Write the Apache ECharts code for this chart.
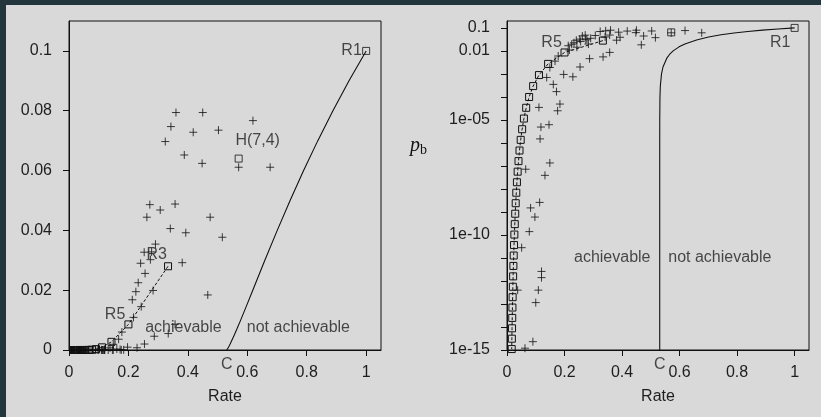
<!DOCTYPE html>
<html><head><meta charset="utf-8">
<script src="https://cdn.jsdelivr.net/npm/echarts@6.0.0/dist/echarts.min.js"></script>
<style>
html,body{margin:0;padding:0;background:#24363d;width:821px;height:417px;overflow:hidden}
#bg{position:absolute;left:6px;top:5px;width:815px;height:412px;background:#d9d9d9}
#chart{position:absolute;left:0;top:0;width:821px;height:417px}
</style></head><body><div id="bg"></div><div id="chart"></div>
<script>
// Repetition codes R1, R3, ..., R61 (rate = 1/N)
const repRate = [1, 0.3333, 0.2, 0.1429, 0.1111, 0.0909, 0.0769, 0.0667, 0.0588, 0.0526, 0.0476, 0.0435, 0.04, 0.037, 0.0345, 0.0323, 0.0303, 0.0286, 0.027, 0.0256, 0.0244, 0.0233, 0.0222, 0.0213, 0.0204, 0.0196, 0.0189, 0.0182, 0.0175, 0.0169, 0.0164];
const repPb = [0.1, 0.028, 0.00856, 0.00273, 8.91e-4, 2.96e-4, 9.93e-5, 3.37e-5, 1.15e-5, 3.94e-6, 1.36e-6, 4.69e-7, 1.62e-7, 5.64e-8, 1.96e-8, 6.85e-9, 2.4e-9, 8.39e-10, 2.95e-10, 1.04e-10, 3.64e-11, 1.28e-11, 4.51e-12, 1.59e-12, 5.61e-13, 1.98e-13, 7.01e-14, 2.48e-14, 8.77e-15, 3.1e-15, 1.1e-15];
// Hamming code H(7,4)
const hamRate = [0.571];
const hamPb = [0.064];
// BCH codes (+ markers)
const bchRate = [0.360, 0.450, 0.619, 0.343, 0.418, 0.503, 0.324, 0.388, 0.448, 0.571, 0.677, 0.272, 0.357, 0.262, 0.307, 0.475, 0.341, 0.393, 0.516, 0.291, 0.253, 0.278, 0.274, 0.241, 0.381, 0.256, 0.233, 0.225, 0.283, 0.213, 0.243, 0.467, 0.217, 0.357, 0.287, 0.334, 0.254, 0.229, 0.197, 0.178, 0.167, 0.149, 0.138, 0.161, 0.172, 0.111, 0.184, 0.176, 0.118, 0.146, 0.115, 0.149, 0.065, 0.132, 0.1135, 0.082, 0.097, 0.0775, 0.051, 0.120, 0.120, 0.037, 0.109, 0.100, 0.090, 0.0625];
const bchPb = [0.0794, 0.0794, 0.0767, 0.0747, 0.0728, 0.0735, 0.0697, 0.0652, 0.0624, 0.0611, 0.0611, 0.0486, 0.0488, 0.0444, 0.0468, 0.0444, 0.0406, 0.0392, 0.0377, 0.0354, 0.0327, 0.0328, 0.0302, 0.0290, 0.0292, 0.0256, 0.0225, 0.0195, 0.0199, 0.0168, 0.0145, 0.0184, 0.0109, 0.0086, 0.0046, 0.0055, 0.0020, 0.00075, 0.00095, 0.0060, 0.0036, 0.0019, 0.0007, 0.00035, 0.00017, 3.5e-5, 4.9e-5, 2.5e-5, 4.9e-6, 6.2e-6, 1.5e-6, 1.35e-7, 7.2e-8, 3.9e-8, 2.6e-9, 1.5e-9, 6e-10, 1.4e-10, 2.8e-11, 2.6e-12, 1.4e-12, 4e-13, 4e-13, 1.15e-13, 2.3e-15, 1.2e-15];
// Shannon limit curve (achievable boundary)
const shannonPb = [0, 1e-15, 1e-10, 1e-6, 1e-5, 1e-4, 3e-4, 1e-3, 2e-3, 5e-3, 7e-3, 0.01, 0.015, 0.02, 0.03, 0.04, 0.05, 0.06, 0.07, 0.08, 0.09, 0.1];
const shannonRate = [0.531, 0.531, 0.531, 0.5310, 0.5311, 0.5318, 0.5331, 0.5372, 0.5423, 0.5563, 0.5650, 0.5777, 0.5983, 0.6185, 0.6591, 0.7008, 0.7441, 0.7895, 0.8374, 0.8882, 0.9423, 1.0];
const capacity = 0.531;
// Tick labels
const xTicks = [0, 0.2, 0.4, 0.6, 0.8, 1];
const xTickLabels = ['0', '0.2', '0.4', '0.6', '0.8', '1'];
const leftYTicks = [0, 0.02, 0.04, 0.06, 0.08, 0.1];
const leftYTickLabels = ['0', '0.02', '0.04', '0.06', '0.08', '0.1'];
const rightYTicksPb = [1e-15, 1e-14, 1e-13, 1e-12, 1e-11, 1e-10, 1e-9, 1e-8, 1e-7, 1e-6, 1e-5, 1e-4, 1e-3, 1e-2, 1e-1];
const rightYLabelPb = [1e-15, 1e-10, 1e-5, 0.01, 0.1];
const rightYLabelText = ['1e-15', '1e-10', '1e-05', '0.01', '0.1'];
// Annotations
const leftNoteText = ['R1', 'R3', 'R5', 'H(7,4)', 'achievable', 'not achievable'];
const leftNoteRate = [0.951, 0.295, 0.155, 0.635, 0.385, 0.772];
const leftNotePb = [0.1, 0.0318, 0.0119, 0.0699, 0.0075, 0.0075];
const rightNoteText = ['R5', 'R1', 'achievable', 'not achievable'];
const rightNoteRate = [0.155, 0.95, 0.366, 0.74];
const rightNotePb = [0.0222, 0.0222, 1e-11, 1e-11];

const FONT = 'Liberation Sans, Arial, Helvetica, sans-serif';
const INK = '#111';
const TXT = '#1e1e1e';
const PLUS = 'path://M0,5L10,5M5,0L5,10';
const lg = p => Math.log10(p);
const lin = p => p;

function fmtFrom(vals, texts, ty) {
  return function (v) {
    for (let i = 0; i < vals.length; i++) {
      if (Math.abs(ty(vals[i]) - v) < 1e-9) return texts[i];
    }
    return '';
  };
}

function buildSeries(gi, ty, keep, noteText, noteRate, notePb, yBottom) {
  const ax = {xAxisIndex: gi, yAxisIndex: gi};
  const pts = (rs, ps) => rs.map((r, i) => [r, ps[i]]).filter(d => keep(d[1])).map(d => [d[0], ty(d[1])]);
  const hollow = {color: 'rgba(0,0,0,0)', borderColor: INK, borderWidth: 1};
  return [
    Object.assign({type: 'line', data: pts(shannonRate, shannonPb), symbol: 'none', silent: true,
      lineStyle: {color: INK, width: 1.1}, z: 2}, ax),
    Object.assign({type: 'line', data: pts(repRate.slice(1), repPb.slice(1)), symbol: 'rect', symbolSize: 7,
      showSymbol: true, showAllSymbol: true, itemStyle: hollow, silent: true,
      lineStyle: {color: INK, width: 1, type: [3, 2]}, z: 3}, ax),
    Object.assign({type: 'scatter', data: pts([repRate[0]].concat(hamRate), [repPb[0]].concat(hamPb)),
      symbol: 'rect', symbolSize: 7, itemStyle: hollow, silent: true, z: 3}, ax),
    Object.assign({type: 'scatter', data: pts(bchRate, bchPb), symbol: PLUS, symbolSize: 8,
      itemStyle: hollow, silent: true, z: 4}, ax),
    Object.assign({type: 'scatter', symbolSize: 0, silent: true, clip: false, z: 5,
      data: noteText.map((t, i) => ({name: t, value: [noteRate[i], ty(notePb[i])]})).concat(
        [{name: 'C', value: [capacity, yBottom], label: {offset: [0, 15]}}]),
      label: {show: true, position: [0, 0], align: 'center', verticalAlign: 'middle',
        formatter: p => p.name, fontSize: 16, fontFamily: FONT, color: TXT}}, ax)
  ];
}

function xAxisCfg(gi) {
  return {
    type: 'value', gridIndex: gi, min: 0, max: 1.05,
    name: 'Rate', nameLocation: 'middle', nameGap: 39,
    nameTextStyle: {fontSize: 16, fontFamily: FONT, color: TXT},
    axisLine: {show: true, onZero: false, lineStyle: {color: INK, width: 1}},
    axisTick: {show: true, length: 6, lineStyle: {color: INK, width: 1}, customValues: xTicks},
    axisLabel: {customValues: xTicks, formatter: fmtFrom(xTicks, xTickLabels, lin),
      fontSize: 16, fontFamily: FONT, color: TXT, margin: 15},
    splitLine: {show: false}
  };
}

const chart = echarts.init(document.getElementById('chart'), null, {renderer: 'canvas'});
chart.setOption({
  animation: false,
  backgroundColor: 'transparent',
  grid: [
    {left: 69, top: 21, width: 312, height: 329, show: true, borderColor: INK, borderWidth: 1, backgroundColor: 'transparent'},
    {left: 507, top: 21, width: 302, height: 329, show: true, borderColor: INK, borderWidth: 1, backgroundColor: 'transparent'}
  ],
  xAxis: [xAxisCfg(0), xAxisCfg(1)],
  yAxis: [
    {type: 'value', gridIndex: 0, min: 0, max: 0.11,
      axisLine: {show: true, onZero: false, lineStyle: {color: INK, width: 1}},
      axisTick: {show: true, length: 6, lineStyle: {color: INK, width: 1}, customValues: leftYTicks},
      axisLabel: {customValues: leftYTicks, formatter: fmtFrom(leftYTicks, leftYTickLabels, lin),
        fontSize: 16, fontFamily: FONT, color: TXT, margin: 17},
      splitLine: {show: false}},
    {type: 'value', gridIndex: 1, min: -15, max: -0.7,
      axisLine: {show: true, onZero: false, lineStyle: {color: INK, width: 1}},
      axisTick: {show: true, length: 6, lineStyle: {color: INK, width: 1}, customValues: rightYTicksPb.map(lg)},
      axisLabel: {customValues: rightYLabelPb.map(lg), formatter: fmtFrom(rightYLabelPb, rightYLabelText, lg),
        fontSize: 16, fontFamily: FONT, color: TXT, margin: 17},
      splitLine: {show: false}}
  ],
  graphic: [
    {type: 'text', x: 410, y: 146, style: {text: 'p', font: 'italic 20px "Liberation Serif", "DejaVu Serif", serif', fill: INK, verticalAlign: 'middle'}},
    {type: 'text', x: 420, y: 150, style: {text: 'b', font: '14px "Liberation Serif", "DejaVu Serif", serif', fill: INK, verticalAlign: 'middle'}}
  ],
  series: [].concat(
    buildSeries(0, lin, p => true, leftNoteText, leftNoteRate, leftNotePb, 0),
    buildSeries(1, lg, p => p > 0, rightNoteText, rightNoteRate, rightNotePb, -15)
  )
});
</script></body></html>
